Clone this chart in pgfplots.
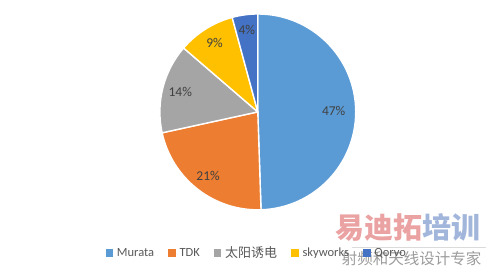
\documentclass[border=0pt]{standalone}
\usepackage{pgfplots}
\pgfplotsset{compat=1.18}
\usepackage{fontspec}
\setmainfont{Carlito}
\newfontfamily\cjk{Noto Sans CJK SC}
\definecolor{cA}{HTML}{5B9BD5}
\definecolor{cB}{HTML}{ED7D31}
\definecolor{cC}{HTML}{A5A5A5}
\definecolor{cD}{HTML}{FFC000}
\definecolor{cE}{HTML}{4472C4}
\definecolor{lbl}{HTML}{404040}
\definecolor{leg}{HTML}{595959}
\newcommand\pieslice[2]{%
  \fill[#2, draw=white, line width=1.4bp, line join=round] (axis cs:258,112) -- ++(\csname sa#1\endcsname:98bp)
    arc[start angle=\csname sa#1\endcsname, end angle=\csname ea#1\endcsname, radius=98bp] -- cycle;}
\newcommand\pielabel[3]{%
  \path (axis cs:258,112) ++(\csname ma#1\endcsname:#2bp) node[text=lbl, font=\fontsize{13.5bp}{15bp}\selectfont, inner sep=0pt]{#3};}
\begin{document}
\begin{tikzpicture}
% values (percent)
\pgfmathsetmacro\total{47+21+14+9+4}
\gdef\cum{0}
\foreach \v/\n in {47/A,21/B,14/C,9/D,4/E}{%
  \pgfmathsetmacro\tmpa{90-(\cum/\total)*360}%
  \pgfmathsetmacro\tmpb{90-((\cum+\v)/\total)*360}%
  \pgfmathsetmacro\tmpm{(\tmpa+\tmpb)/2}%
  \pgfmathsetmacro\tmpc{\cum+\v}%
  \expandafter\xdef\csname sa\n\endcsname{\tmpa}%
  \expandafter\xdef\csname ea\n\endcsname{\tmpb}%
  \expandafter\xdef\csname ma\n\endcsname{\tmpm}%
  \xdef\cum{\tmpc}%
}
\begin{axis}[
  scale only axis, width=486bp, height=271bp,
  xmin=0, xmax=486, ymin=0, ymax=271, y dir=reverse,
  hide axis, clip=false,
  legend style={at={(axis cs:256,253)}, anchor=center, draw=none, fill=none,
    legend columns=-1, font=\fontsize{12.5bp}{14bp}\selectfont, text=leg,
    nodes={inner sep=0pt},
    /tikz/every odd column/.append style={column sep=4.5bp},
    /tikz/every even column/.append style={column sep=14bp}},
  legend cell align=left,
]
\path (axis cs:0,0) rectangle (axis cs:486,271);
\pieslice{A}{cA}
\pieslice{B}{cB}
\pieslice{C}{cC}
\pieslice{D}{cD}
\pieslice{E}{cE}
\pielabel{A}{76}{47\%}
\pielabel{B}{81}{21\%}
\pielabel{C}{80}{14\%}
\pielabel{D}{81}{9\%}
\pielabel{E}{83}{4\%}
\addlegendimage{legend image code/.code={\fill[cA] (0bp,-3.2bp) rectangle (6.5bp,3.2bp);}}
\addlegendentry{Murata}
\addlegendimage{legend image code/.code={\fill[cB] (0bp,-3.2bp) rectangle (6.5bp,3.2bp);}}
\addlegendentry{TDK}
\addlegendimage{legend image code/.code={\fill[cC] (0bp,-3.2bp) rectangle (6.5bp,3.2bp);}}
\addlegendentry{{\cjk\fontsize{13bp}{14bp}\selectfont 太阳诱电}}
\addlegendimage{legend image code/.code={\fill[cD] (0bp,-3.2bp) rectangle (6.5bp,3.2bp);}}
\addlegendentry{skyworks}
\addlegendimage{legend image code/.code={\fill[cE] (0bp,-3.2bp) rectangle (6.5bp,3.2bp);}}
\addlegendentry{Qorvo}
% watermark
\draw[gray!40, line width=0.8bp, opacity=0.7] (axis cs:352,248) -- (axis cs:486,248);
\node[anchor=west, inner sep=0pt, font=\cjk\bfseries\fontsize{29bp}{30bp}\selectfont, text={rgb,255:red,214;green,70;blue,70}, opacity=0.5] at (axis cs:336,228) {易迪拓};
\node[anchor=west, inner sep=0pt, font=\cjk\bfseries\fontsize{29bp}{30bp}\selectfont, text={rgb,255:red,70;green,110;blue,185}, opacity=0.5] at (axis cs:423,228) {培训};
\node[anchor=west, inner sep=0pt, font=\cjk\fontsize{15.5bp}{16bp}\selectfont, text={rgb,255:red,90;green,90;blue,90}, opacity=0.6] at (axis cs:342,259) {射频和天线设计专家};
\end{axis}
\end{tikzpicture}
\end{document}
